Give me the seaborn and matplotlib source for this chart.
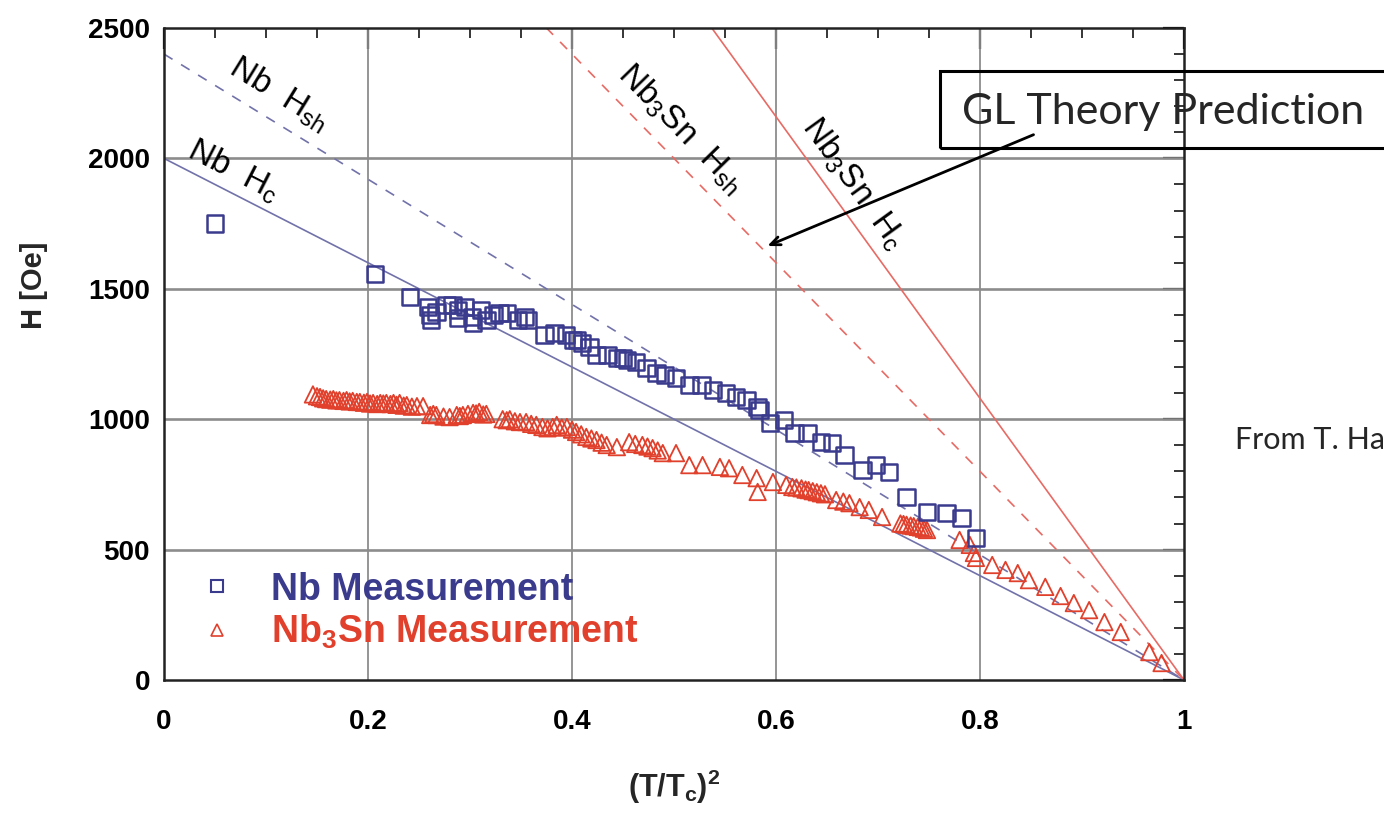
import numpy as np
import matplotlib
matplotlib.use("Agg")
import matplotlib.pyplot as plt
import matplotlib.patches as patches
from matplotlib.lines import Line2D
import seaborn as sns

# Nb measurement (open squares)
nb_x = [0.050, 0.207, 0.241, 0.259, 0.261, 0.262, 0.267, 0.277, 0.283, 0.288, 0.288,
        0.295, 0.302, 0.303, 0.311, 0.316, 0.323, 0.329, 0.336, 0.347, 0.354, 0.357,
        0.373, 0.383, 0.394, 0.401, 0.405, 0.410, 0.417, 0.424, 0.435, 0.444, 0.450,
        0.454, 0.463, 0.473, 0.483, 0.491, 0.502, 0.515, 0.527, 0.538, 0.551, 0.561,
        0.571, 0.582, 0.584, 0.594, 0.608, 0.618, 0.631, 0.644, 0.655, 0.667, 0.685,
        0.698, 0.711, 0.728, 0.748, 0.767, 0.782, 0.796]
nb_h = [1750, 1557, 1468, 1430, 1400, 1380, 1411, 1438, 1438, 1418, 1388,
        1430, 1392, 1369, 1418, 1380, 1400, 1407, 1407, 1380, 1392, 1380,
        1323, 1330, 1323, 1304, 1304, 1292, 1277, 1246, 1246, 1235, 1235,
        1227, 1219, 1196, 1177, 1169, 1158, 1131, 1131, 1112, 1100, 1085,
        1073, 1047, 1035, 985, 997, 947, 947, 912, 909, 863, 805,
        824, 797, 702, 644, 640, 621, 544]

# Nb3Sn measurement (open triangles)
nb3sn_x = [0.146, 0.150, 0.153, 0.156, 0.159, 0.163, 0.166, 0.169, 0.172, 0.176,
           0.179, 0.182, 0.185, 0.189, 0.192, 0.196, 0.199, 0.202, 0.205, 0.209,
           0.212, 0.215, 0.218, 0.222, 0.225, 0.228, 0.231, 0.235, 0.238, 0.243,
           0.248, 0.254, 0.261, 0.264, 0.267, 0.274, 0.280, 0.287, 0.290, 0.293,
           0.298, 0.303, 0.306, 0.309, 0.313, 0.316, 0.332, 0.336, 0.339, 0.344,
           0.349, 0.355, 0.360, 0.365, 0.371, 0.376, 0.381, 0.385, 0.390, 0.395,
           0.400, 0.404, 0.409, 0.414, 0.419, 0.424, 0.429, 0.434, 0.444, 0.456,
           0.462, 0.469, 0.474, 0.479, 0.484, 0.489, 0.502, 0.515, 0.528, 0.545,
           0.554, 0.567, 0.581, 0.582, 0.597, 0.610, 0.616, 0.620, 0.625, 0.629,
           0.632, 0.636, 0.640, 0.644, 0.648, 0.659, 0.666, 0.672, 0.682, 0.691,
           0.704, 0.722, 0.725, 0.728, 0.732, 0.735, 0.739, 0.742, 0.745, 0.748,
           0.780, 0.790, 0.794, 0.796, 0.812, 0.825, 0.837, 0.848, 0.864, 0.879,
           0.892, 0.907, 0.922, 0.938, 0.966, 0.978]
nb3sn_h = [1095, 1088, 1085, 1080, 1077, 1075, 1077, 1072, 1073, 1070,
           1073, 1068, 1070, 1066, 1066, 1063, 1066, 1060, 1062, 1058,
           1062, 1060, 1062, 1058, 1062, 1055, 1062, 1052, 1054, 1048,
           1050, 1050, 1016, 1020, 1016, 1010, 1008, 1016, 1012, 1016,
           1020, 1024, 1022, 1028, 1018, 1020, 1000, 996, 1000, 992,
           989, 989, 982, 978, 970, 965, 970, 978, 968, 970,
           960, 951, 942, 932, 926, 920, 910, 901, 893, 912,
           905, 901, 895, 889, 880, 870, 870, 824, 824, 817,
           812, 786, 774, 721, 759, 748, 740, 738, 735, 730,
           728, 724, 720, 716, 712, 690, 684, 678, 663, 652,
           625, 600, 598, 595, 592, 590, 587, 585, 580, 575,
           537, 518, 487, 468, 441, 422, 410, 383, 357, 322,
           295, 268, 222, 184, 107, 65]

# GL theory lines: H(0) for H = H(0) * (1 - (T/Tc)^2)
theory_h0 = [2000, 2400, 5400, 4000]
theory_dashed = [False, True, False, True]
theory_labels = ["Nb  H$_\\mathregular{c}$", "Nb  H$_\\mathregular{sh}$",
                 "Nb$_\\mathregular{3}$Sn  H$_\\mathregular{c}$",
                 "Nb$_\\mathregular{3}$Sn  H$_\\mathregular{sh}$"]
label_x = [0.068, 0.113, 0.676, 0.507]
label_h = [1955, 2250, 1905, 2115]

x_ticks = [0, 0.2, 0.4, 0.6, 0.8, 1]
x_tick_labels = ["0", "0.2", "0.4", "0.6", "0.8", "1"]
y_ticks = [0, 500, 1000, 1500, 2000, 2500]

BLUE = "#3b3b8e"
RED = "#e0402c"
BLUE_LINE = "#7272aa"
RED_LINE = "#e86a64"
GRID = "#8c8c8c"

sns.set_style("white")
plt.rcParams["font.family"] = ["Liberation Sans", "DejaVu Sans"]

fig = plt.figure(figsize=(13.84, 8.27), dpi=100)
ax = fig.add_axes([164 / 1384, 1 - 680 / 827, 1020 / 1384, 652 / 827])
ax.set_xlim(0, 1)
ax.set_ylim(0, 2500)

# grid
for yv in y_ticks[1:-1]:
    ax.axhline(yv, color=GRID, lw=1.9, zorder=1)
for xv in x_ticks[1:-1]:
    ax.axvline(xv, color=GRID, lw=1.3, zorder=1)

# theory lines
line_x = np.array([0.0, 1.0])
for h0, dashed in zip(theory_h0, theory_dashed):
    col = BLUE_LINE if h0 < 3000 else RED_LINE
    ax.plot(line_x, h0 * (1 - line_x), color=col, lw=1.2,
            ls=(0, (6, 6)) if dashed else "-", zorder=2)

sns.scatterplot(x=nb3sn_x, y=nb3sn_h, marker="^", s=140, fc="none", ec=RED,
                linewidth=1.3, ax=ax, zorder=3)
sns.scatterplot(x=nb_x, y=nb_h, marker="s", s=140, fc="none", ec=BLUE,
                linewidth=1.8, ax=ax, zorder=4)

# line labels rotated along the lines
for h0, txt, lx, lh in zip(theory_h0, theory_labels, label_x, label_h):
    p1 = ax.transData.transform((1, 0))
    pt = ax.transData.transform((0, h0))
    ang = np.degrees(np.arctan2(p1[1] - pt[1], p1[0] - pt[0]))
    ax.text(lx, lh, txt, fontsize=24, rotation=ang, rotation_mode="anchor",
            ha="center", va="center", color="black", zorder=5)

ax.set_xticks(x_ticks, x_tick_labels, fontweight="bold")
ax.set_yticks(y_ticks, [str(v) for v in y_ticks], fontweight="bold")
ax.set_xticks(np.arange(0, 1.0001, 0.05), minor=True)
ax.set_yticks(np.arange(0, 2501, 100), minor=True)
ax.tick_params(which="major", direction="in", length=15, width=1.6,
               top=True, right=True, labelsize=20, colors="black")
ax.tick_params(axis="x", which="major", pad=21)
ax.tick_params(axis="y", which="major", pad=10)
ax.tick_params(which="minor", direction="in", length=7, width=1.3,
               top=True, right=True)
for sp in ax.spines.values():
    sp.set_linewidth(1.8)
    sp.set_color("#222222")

ax.set_xlabel("(T/T$_\\mathregular{c}$)$^\\mathregular{2}$", fontsize=22,
              fontweight="bold")
ax.set_ylabel("H [Oe]", fontsize=21, fontweight="bold")
ax.xaxis.set_label_coords(0.5, -0.135)
ax.yaxis.set_label_coords(-0.114, 0.606)

# legend
handles = [Line2D([], [], ls="none", marker="s", ms=9, mfc="none", mec=BLUE, mew=1.5),
           Line2D([], [], ls="none", marker="^", ms=9, mfc="none", mec=RED, mew=1.2)]
leg = ax.legend(handles, ["Nb Measurement", "Nb$_\\mathregular{3}$Sn Measurement"],
                loc="lower left", bbox_to_anchor=(0.0, -0.008), frameon=False,
                prop={"size": 27, "weight": "bold"}, handlelength=1.0,
                handletextpad=0.95, labelspacing=0.15, labelcolor=[BLUE, RED])

# annotation box and arrow
fig.patches.append(patches.Rectangle((940 / 1384, 1 - 148 / 827), 0.34, 77 / 827,
                                     transform=fig.transFigure, fill=False,
                                     lw=2.2, ec="black", zorder=10))
fig.text(962 / 1384, 1 - 112 / 827, "GL Theory Prediction", fontsize=31,
         family="Lato", va="center", ha="left")
ax.annotate("", xy=(0.589, 1660), xytext=(0.855, 2095),
            arrowprops=dict(arrowstyle="->,head_length=0.7,head_width=0.3",
                            color="black", lw=2), annotation_clip=False)
fig.text(1235 / 1384, 1 - 440 / 827, "From T. Ha", fontsize=22,
         family="Lato", va="center", ha="left")

fig.savefig("out.png", dpi=100)
